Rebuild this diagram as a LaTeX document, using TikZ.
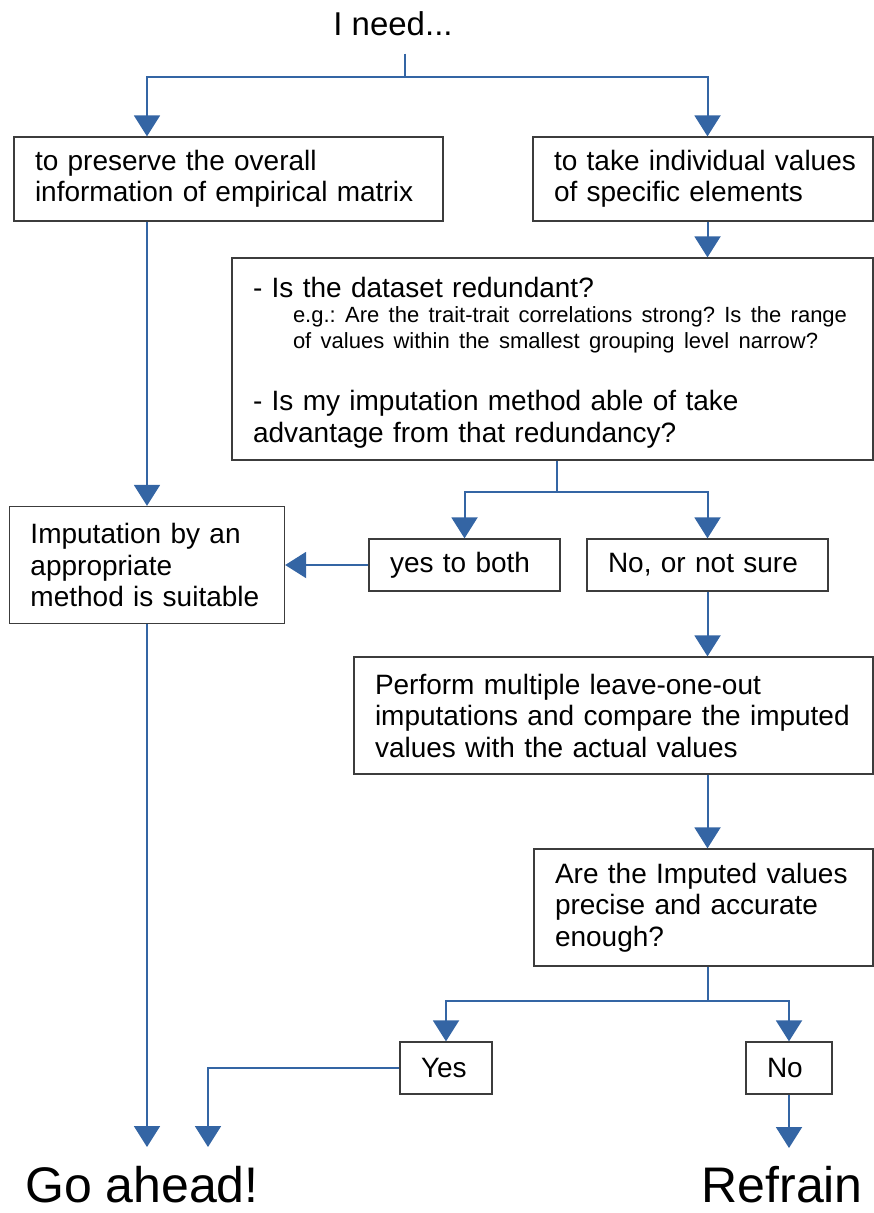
\documentclass[tikz,border=0pt]{standalone}
\usepackage{fontspec}
\setmainfont{Liberation Sans}
\usetikzlibrary{arrows.meta, positioning}
\definecolor{flowblue}{RGB}{52,101,164}
\definecolor{boxgray}{RGB}{60,60,60}
\newcommand{\boxfont}{\fontsize{28}{31.5}\selectfont}
\newcommand{\notefont}{\fontsize{22}{25.5}\selectfont}
\newcommand{\needfont}{\fontsize{33}{38}\selectfont}
\newcommand{\finalfont}{\fontsize{50}{58}\selectfont}
\frenchspacing

\begin{document}
\begin{tikzpicture}[
  x=1pt, y=-1pt,
  box/.style={rectangle, draw=boxgray, line width=1.3pt, fill=white, align=left, font=\boxfont, inner xsep=21pt, inner ysep=0pt},
  link/.style={draw=flowblue, line width=2pt},
  arr/.style={link, -{Triangle[length=21pt, width=26pt]}},
  term/.style={font=\finalfont, inner sep=0pt}
]
  \useasboundingbox (0,0) rectangle (874,1213);

  % Nodes
  \node[font=\needfont, inner xsep=0pt, inner ysep=18pt, anchor=base] (need) at (393,35) {I need...};
  \node[box, text width=387pt, minimum height=84pt] (pres) at (228.5,179) {to preserve the overall\\information of empirical matrix};
  \node[box, text width=298pt, minimum height=84pt] (indiv) at (703,179) {\mbox{to take individual values}\\of specific elements};
  \node[box, text width=599pt, minimum height=202pt] (redund) at (552.5,359) {%
    {- Is the dataset redundant?\par}
    {\notefont\leftskip=40pt \mbox{e.g.: Are the trait-trait correlations strong? Is the range}\\\mbox{of values within the smallest grouping level narrow?}\par}
    \vspace{31pt}
    - Is my imputation method able of take\\advantage from that redundancy?\par\kern-7pt};

  \node[box, text width=233pt, minimum height=117pt] (suit) at (147,565) {Imputation by an\\appropriate\\\mbox{method is suitable}};
  \node[box, text width=149pt, minimum height=52pt] (both) at (464.5,565) {yes to both};
  \node[box, text width=199pt, minimum height=52pt] (unsure) at (707.5,565) {No, or not sure};

  \node[box, text width=477pt, minimum height=117pt] (loo) at (613.5,715.5) {Perform multiple leave-one-out\\imputations and compare the imputed\\values with the actual values};
  \node[box, text width=297pt, minimum height=117pt] (precise) at (703.5,907.5) {Are the Imputed values\\precise and accurate\\enough?};

  \node[box, text width=50pt, minimum height=52pt] (yes) at (446,1068) {Yes};
  \node[box, text width=44pt, minimum height=52pt] (no) at (789,1068) {No};

  \node[term, anchor=base west] (go) at (25,1202) {Go ahead!};
  \node[term, anchor=base east] (refrain) at (863,1202) {Refrain};

  % Branch points
  \coordinate (split1) at (405,77);
  \coordinate (split2) at (557,492);
  \coordinate (split3) at (708,1001);
  \coordinate (goL) at (147,1147);
  \coordinate (goR) at (208,1147);
  \coordinate (stop) at (789,1148);

  % Flows
  \draw[link] (need.south -| split1) -- (split1);
  \draw[arr] (split1) -| (pres.north -| suit);
  \draw[arr] (split1) -| (indiv.north -| unsure);
  \draw[arr] (indiv.south -| unsure) -- (redund.north -| unsure);
  \draw[arr] (pres.south -| suit) -- (suit.north);

  \draw[link] (redund.south -| split2) -- (split2);
  \draw[arr] (split2) -| (both.north);
  \draw[arr] (split2) -| (unsure.north);
  \draw[arr] (both.west) -- (suit.east);
  \draw[arr] (suit.south) -- (goL);

  \draw[arr] (unsure.south) -- (loo.north -| unsure);
  \draw[arr] (loo.south -| unsure) -- (precise.north -| unsure);

  \draw[link] (precise.south -| split3) -- (split3);
  \draw[arr] (split3) -| (yes.north);
  \draw[arr] (split3) -| (no.north);
  \draw[arr] (yes.west) -| (goR);
  \draw[arr] (no.south) -- (stop);
\end{tikzpicture}
\end{document}
